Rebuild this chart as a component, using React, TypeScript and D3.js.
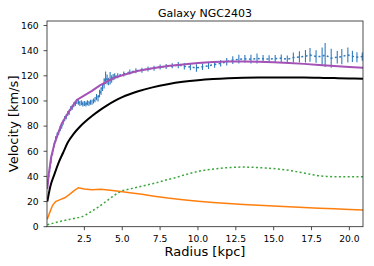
import React from "react";
import * as d3 from "d3";

// ---- data ----
const title = "Galaxy NGC2403";
const xLabel = "Radius [kpc]";
const yLabel = "Velocity [km/s]";
const xTicks = [2.5, 5.0, 7.5, 10.0, 12.5, 15.0, 17.5, 20.0];
const yTicks = [0, 20, 40, 60, 80, 100, 120, 140, 160];

// observed rotation curve: radius, velocity, error
const obsR = [
  0.1, 0.2, 0.3, 0.4, 0.5, 0.6, 0.7, 0.8, 0.9, 1.0, 1.1, 1.2, 1.3, 1.4, 1.5, 1.6, 1.7, 1.8, 1.9, 2.0,
  2.1, 2.2, 2.3, 2.4, 2.5, 2.6, 2.7, 2.8, 2.9, 3.0, 3.1, 3.2, 3.3, 3.4, 3.5, 3.6, 3.7, 3.8, 3.9, 4.0,
  4.1, 4.2, 4.3, 4.4, 4.5,
  4.7, 5.1, 5.5, 5.9, 6.3, 6.7, 7.1, 7.5, 7.9, 8.3, 8.7, 9.1, 9.5, 9.9, 10.3, 10.7, 11.1, 11.5, 11.9,
  12.3, 12.7, 13.1, 13.5, 13.9, 14.3, 14.7, 15.1, 15.5, 15.9, 16.3, 16.7, 17.1, 17.4, 17.8, 18.2, 18.4,
  18.8, 19.2, 19.5, 19.9, 20.2, 20.5, 20.85,
];
const obsV = [
  36, 45, 53, 59, 65, 70, 73, 75, 78, 80, 83, 86, 87.5, 90, 91, 94, 95, 97, 98, 99.5,
  99, 98, 98.5, 97.5, 98, 97.5, 98.5, 98, 99, 99, 100, 101, 103, 102, 106, 108, 111, 114, 118.5, 117,
  115.5, 118, 117.5, 119, 119.5,
  120, 121.5, 123, 124, 124.5, 125.5, 126, 127, 127.4, 128, 128.5, 127.6, 127, 126.3, 127.2, 128, 129, 130, 131.2,
  132.5, 133.2, 133.5, 133.2, 133.8, 133.5, 133.4, 133.6, 134, 133.2, 134.5, 135, 135.6, 136.6, 135.3, 135.5, 136.6,
  134, 134.8, 135.3, 136.6, 135.5, 134.8, 135.3,
];
const obsE = [
  2, 2, 2, 2, 2, 2, 2, 2, 2, 2, 2, 2, 2, 2, 2, 2, 2, 2, 2, 2,
  2, 2, 2, 2, 2, 2, 2, 2, 2, 2, 2, 2, 2.5, 2.5, 3, 3, 3, 4, 5, 4,
  3, 5, 3, 2.5, 2.5,
  2, 2, 2, 2, 2, 2, 2, 2, 2, 2, 2.5, 2.5, 2.5, 3, 2.5, 2.5, 2.5, 2.5, 3,
  3, 3.5, 3, 3.5, 4, 3, 3, 3, 3, 3, 4, 4.5, 5, 5.5, 5, 7, 9.5,
  7.5, 5, 6, 6, 4.5, 4, 3.3,
];

// total model (purple)
const totR = [0.05, 0.15, 0.3, 0.5, 0.7, 1.0, 1.5, 2.0, 2.5, 3.0, 3.5, 4.0, 4.5, 5.0, 6.0, 7.0, 8.0, 9.0, 10, 11, 12, 13, 14, 15, 16, 17, 18, 19, 20, 20.9];
const totV = [30, 42, 55, 65, 72, 82, 92, 100.8, 104.5, 108, 112.2, 115.5, 118.5, 120.5, 123.8, 126, 127.8, 129, 130.2, 131, 131.4, 131.4, 131.2, 130.8, 130.2, 129.5, 128.6, 127.8, 127, 126.5];

// dark halo (black)
const haloR = [0.05, 0.25, 0.5, 0.8, 1.1, 1.4, 1.8, 2.2, 2.6, 3.0, 3.5, 4.0, 4.5, 5.0, 6.0, 7.0, 8.0, 9.0, 10, 11, 12, 13, 14, 15, 16, 17, 18, 19, 20, 20.9];
const haloV = [20, 32, 41, 51, 59, 67, 74, 79.5, 84, 88, 92.5, 96.5, 100, 103, 107.5, 110.8, 113.3, 115.2, 116.5, 117.4, 118, 118.4, 118.6, 118.7, 118.7, 118.6, 118.4, 118.2, 117.9, 117.7];

// stellar / bulge (orange)
const starR = [0.05, 0.2, 0.4, 0.6, 0.9, 1.2, 1.5, 1.8, 2.1, 2.5, 3.0, 3.6, 4.2, 4.9, 5.5, 6.3, 7.0, 8.0, 9.0, 10, 11, 12, 13, 14, 15, 16, 17, 18, 19, 20, 20.9];
const starV = [6, 11, 17, 20, 21.5, 23, 25.5, 28.5, 31, 30, 29.3, 29.8, 29, 28, 27, 25.8, 24.5, 22.8, 21.5, 20.3, 19.3, 18.4, 17.7, 17, 16.4, 15.8, 15.2, 14.7, 14.2, 13.7, 13.3];

// gas (green dotted)
const gasR = [0.05, 0.5, 1.0, 1.5, 2.0, 2.3, 2.6, 3.0, 3.4, 3.8, 4.2, 4.6, 5.0, 5.5, 6.0, 6.5, 7.0, 7.5, 8.0, 8.5, 9.0, 9.5, 10, 10.5, 11, 11.5, 12, 12.5, 13, 13.5, 14, 14.5, 15, 15.5, 16, 16.5, 17, 17.5, 18, 18.5, 19, 19.5, 20, 20.9];
const gasV = [1.5, 3, 4.5, 5.8, 7, 7.8, 9.5, 12.5, 15.5, 19, 22.5, 26, 28.5, 30, 31.5, 32.8, 34.2, 35.8, 37.5, 39, 40.8, 42.5, 44, 45, 45.8, 46.5, 47, 47.3, 47.4, 47.3, 47, 46.6, 46.2, 45.6, 44.8, 43.8, 42.7, 41.5, 40.5, 40, 39.8, 39.8, 39.8, 39.8];

const W = 374;
const H = 266;
const L = 47, R = 363, T = 21, B = 226.7;
const FONT = "DejaVu Sans, sans-serif";

export default function App() {
  const x = d3.scaleLinear().domain([0.03, 20.9]).range([L, R]);
  const y = d3.scaleLinear().domain([0, 163.6]).range([B, T]);

  const mk = (rs: number[], vs: number[], curve: d3.CurveFactory = d3.curveLinear) =>
    d3
      .line<number>()
      .x((_, i) => x(rs[i]))
      .y((v) => y(v))
      .curve(curve)(vs) || "";

  return (
    <svg width={W} height={H} style={{ position: "absolute", left: 0, top: 0, background: "#fff" }} fontFamily={FONT}>
      <defs>
        <clipPath id="plot">
          <rect x={L} y={T} width={R - L} height={B - T} />
        </clipPath>
      </defs>
      <rect x={0} y={0} width={W} height={H} fill="#fff" />
      <g clipPath="url(#plot)">
        {/* observed error bars */}
        {obsR.map((r, i) => (
          <line key={"e" + i} x1={x(r)} x2={x(r)} y1={y(obsV[i] - obsE[i])} y2={y(obsV[i] + obsE[i])} stroke="#2f7bbf" strokeWidth={1.1} />
        ))}
        <path d={mk(obsR, obsV)} fill="none" stroke="#2f7bbf" strokeWidth={1.5} strokeDasharray="2,2.4" />
        <path d={mk(gasR, gasV, d3.curveMonotoneX)} fill="none" stroke="#3aa63a" strokeWidth={1.5} strokeDasharray="2,2.4" />
        <path d={mk(starR, starV)} fill="none" stroke="#ff7f0e" strokeWidth={1.5} />
        <path d={mk(haloR, haloV, d3.curveMonotoneX)} fill="none" stroke="#000" strokeWidth={2} />
        <path d={mk(totR, totV)} fill="none" stroke="#a452b6" strokeWidth={2} />
      </g>
      {/* frame */}
      <rect x={L} y={T} width={R - L} height={B - T} fill="none" stroke="#222" strokeWidth={0.8} />
      {/* x ticks */}
      {xTicks.map((t) => (
        <g key={"x" + t}>
          <line x1={x(t)} x2={x(t)} y1={B} y2={B + 3.5} stroke="#222" strokeWidth={0.8} />
          <text x={x(t)} y={241.6} fontSize={9.2} textAnchor="middle" fill="#000">
            {t.toFixed(1)}
          </text>
        </g>
      ))}
      {/* y ticks */}
      {yTicks.map((t) => (
        <g key={"y" + t}>
          <line x1={L - 3.5} x2={L} y1={y(t)} y2={y(t)} stroke="#222" strokeWidth={0.8} />
          <text x={38.6} y={y(t) + 3.3} fontSize={9.2} textAnchor="end" fill="#000">
            {t}
          </text>
        </g>
      ))}
      <text x={(L + R) / 2} y={16.5} fontSize={11} textAnchor="middle" fill="#000">
        {title}
      </text>
      <text x={(L + R) / 2} y={256} fontSize={13} textAnchor="middle" fill="#000">
        {xLabel}
      </text>
      <text transform={`translate(17.5,${(T + B) / 2}) rotate(-90)`} fontSize={13} textAnchor="middle" fill="#000">
        {yLabel}
      </text>
    </svg>
  );
}
